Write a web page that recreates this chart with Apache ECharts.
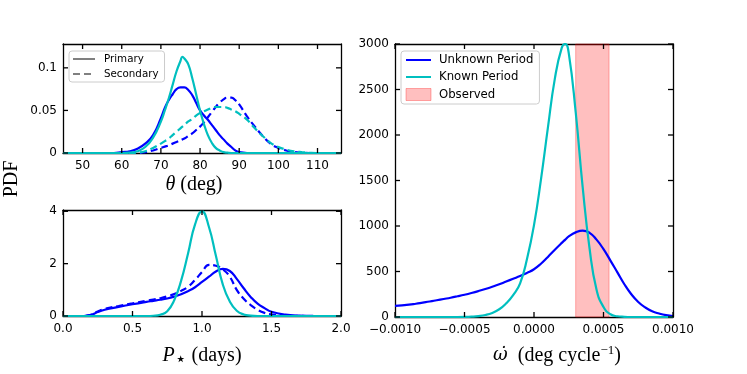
<!DOCTYPE html>
<html>
<head>
<meta charset="utf-8">
<script src="https://cdn.jsdelivr.net/npm/echarts@6/dist/echarts.min.js"></script>
<style>
  html, body { margin: 0; padding: 0; background: #fff; }
  #chart { width: 747px; height: 374px; }
</style>
</head>
<body>
<div id="chart"></div>
<script>
// theta panel (top left)
const thetaGrid = [45, 58, 60, 62, 64, 66, 68, 70, 71, 72, 73, 74, 75, 75.5, 76, 77, 78, 79, 80, 81, 82, 83, 84, 85, 86, 87, 88, 89, 90, 92, 94, 96, 98, 100, 102, 104, 106, 108, 110, 116]
const thetaUnknownPri = [0, 0, 0.001, 0.002, 0.005, 0.011, 0.021, 0.041, 0.053, 0.062, 0.069, 0.075, 0.077, 0.077, 0.077, 0.074, 0.068, 0.059, 0.05, 0.044, 0.039, 0.033, 0.027, 0.021, 0.016, 0.011, 0.007, 0.003, 0.001, 0, 0, 0, 0, 0, 0, 0, 0, 0, 0, 0]
const thetaKnownPri = [0, 0, 0, 0.0005, 0.002, 0.007, 0.018, 0.037, 0.05, 0.064, 0.08, 0.096, 0.108, 0.113, 0.111, 0.104, 0.088, 0.069, 0.05, 0.034, 0.021, 0.012, 0.006, 0.003, 0.001, 0.0004, 0, 0, 0, 0, 0, 0, 0, 0, 0, 0, 0, 0, 0, 0]
const thetaUnknownSec = [0, 0, 0, 0, 0, 0.001, 0.003, 0.006, 0.0075, 0.009, 0.011, 0.013, 0.015, 0.016, 0.017, 0.02, 0.023, 0.027, 0.031, 0.036, 0.042, 0.048, 0.054, 0.059, 0.063, 0.065, 0.065, 0.062, 0.057, 0.043, 0.031, 0.02, 0.011, 0.006, 0.003, 0.0012, 0.0004, 0, 0, 0]
const thetaKnownSec = [0, 0, 0, 0, 0.0005, 0.002, 0.006, 0.011, 0.014, 0.017, 0.021, 0.025, 0.029, 0.031, 0.033, 0.037, 0.04, 0.044, 0.047, 0.049, 0.051, 0.053, 0.054, 0.054, 0.054, 0.053, 0.051, 0.049, 0.046, 0.039, 0.029, 0.02, 0.012, 0.007, 0.004, 0.002, 0.001, 0.0003, 0, 0]
const thetaTicks = [50, 60, 70, 80, 90, 100, 110]
const thetaYTicks = [0, 0.05, 0.1]

// stellar period panel (bottom left)
const pGrid = [0, 0.15, 0.2, 0.25, 0.3, 0.4, 0.5, 0.6, 0.65, 0.7, 0.75, 0.8, 0.85, 0.9, 0.95, 1.0, 1.05, 1.1, 1.15, 1.2, 1.25, 1.3, 1.35, 1.4, 1.45, 1.5, 1.6, 1.7, 1.8, 2.0]
const pUnknownPri = [0, 0, 0.04, 0.15, 0.24, 0.35, 0.45, 0.54, 0.58, 0.62, 0.67, 0.74, 0.83, 0.95, 1.1, 1.3, 1.5, 1.7, 1.8, 1.72, 1.42, 1.06, 0.73, 0.47, 0.3, 0.16, 0.05, 0.015, 0.005, 0]
const pUnknownSec = [0, 0, 0.05, 0.17, 0.27, 0.38, 0.48, 0.58, 0.63, 0.68, 0.75, 0.84, 0.96, 1.12, 1.38, 1.68, 1.95, 1.92, 1.78, 1.5, 1.0, 0.66, 0.42, 0.24, 0.12, 0.06, 0.015, 0.003, 0, 0]
const pKnown = [0, 0, 0, 0, 0, 0, 0, 0, 0.01, 0.05, 0.18, 0.6, 1.35, 2.4, 3.5, 4.0, 3.4, 2.3, 1.2, 0.55, 0.2, 0.06, 0.015, 0, 0, 0, 0, 0, 0, 0]
const pTicks = [0, 0.5, 1.0, 1.5, 2.0]
const pYTicks = [0, 2, 4]

// precession panel (right)
const omegaGrid = [-0.001, -0.00095, -0.0009, -0.00085, -0.0008, -0.00075, -0.0007, -0.00065, -0.0006, -0.00055, -0.0005, -0.00045, -0.0004, -0.00035, -0.0003, -0.00025, -0.0002, -0.00015, -0.0001, -0.00005, 0, 0.00005, 0.0001, 0.00015, 0.0002, 0.000225, 0.00025, 0.0003, 0.00035, 0.0004, 0.00045, 0.0005, 0.00055, 0.0006, 0.00065, 0.0007, 0.00075, 0.0008, 0.00085, 0.0009, 0.00095, 0.001]
const omegaUnknown = [122, 128, 135, 146, 158, 170, 184, 198, 212, 228, 245, 264, 285, 308, 333, 360, 390, 420, 450, 485, 525, 585, 660, 740, 815, 850, 885, 930, 950, 925, 850, 745, 620, 490, 360, 250, 165, 105, 63, 38, 20, 10]
const omegaKnown = [0, 0, 0, 0, 0, 0, 0, 0, 0, 0, 1, 4, 10, 22, 45, 85, 150, 240, 370, 640, 1010, 1510, 2080, 2620, 2960, 3000, 2900, 2250, 1430, 750, 300, 110, 30, 8, 2, 0, 0, 0, 0, 0, 0, 0]
const observedRange = [0.0003, 0.00054]
const omegaTicks = [-0.001, -0.0005, 0, 0.0005, 0.001]
const omegaYTicks = [0, 500, 1000, 1500, 2000, 2500, 3000]

const BLUE = '#0000ff'
const CYAN = '#00bfbf'
const GRAY = '#808080'
const tickFont = { fontFamily: 'DejaVu Sans', fontSize: 12, color: '#000' }
const titleFont = { fontFamily: 'Liberation Serif', fontSize: 20, color: '#000' }
const panels = [
  { left: 63, top: 44, width: 278, height: 109 },
  { left: 63, top: 210, width: 278, height: 106 },
  { left: 395, top: 44, width: 278, height: 273 }
]

function pairs(xs, ys) {
  return xs.map((x, i) => [x, ys[i]])
}

function line(show) {
  return { show, onZero: false, lineStyle: { color: '#000', width: 1.3 } }
}

function xAxes(grid, min, max, ticks, fmt, name, nameGap, pad) {
  const base = { type: 'value', gridIndex: grid, min, max, splitLine: { show: false }, axisTick: { show: false } }
  return [
    {
      ...base, position: 'bottom', axisLine: line(true),
      axisLabel: { customValues: ticks, formatter: fmt, margin: 7, ...tickFont },
      name, nameLocation: 'middle', nameGap,
      nameTextStyle: {
        ...titleFont, padding: pad,
        rich: {
          i: { ...titleFont, fontStyle: 'italic' },
          w: { ...titleFont, fontFamily: 'DejaVu Serif', fontSize: 18, fontStyle: 'italic' },
          s: { ...titleFont, fontFamily: 'DejaVu Sans', fontSize: 19, padding: [9, 0, 0, 0] },
          sup: { ...titleFont, fontSize: 13, padding: [0, 0, 10, 0] }
        }
      }
    },
    { ...base, position: 'top', axisLine: line(true), axisLabel: { show: false } }
  ]
}

function yAxes(grid, min, max, ticks) {
  const base = { type: 'value', gridIndex: grid, min, max, splitLine: { show: false }, axisTick: { show: false } }
  return [
    {
      ...base, position: 'left', axisLine: line(true),
      axisLabel: { customValues: ticks, formatter: v => String(v), margin: 6, ...tickFont }
    },
    { ...base, position: 'right', axisLine: line(true), axisLabel: { show: false } }
  ]
}

function curve(name, g, data, color, dashed) {
  return {
    name, type: 'line', xAxisIndex: g * 2, yAxisIndex: g * 2,
    data, symbol: 'none', smooth: 0.5,
    lineStyle: { color, width: 2.2, type: dashed ? [7, 4] : 'solid' },
    itemStyle: { color }, z: 3
  }
}

const chart = echarts.init(document.getElementById('chart'))

chart.setOption({
  animation: false,
  grid: panels,
  xAxis: [
    ...xAxes(0, 45, 116, thetaTicks, v => String(v), '{i|θ} (deg)', 22, [0, 16, 0, 0]),
    ...xAxes(1, 0, 2, pTicks, v => v.toFixed(1), '{i|P}{s|⋆} (days)', 26, [0, 0, 0, 0]),
    ...xAxes(2, -0.001, 0.001, omegaTicks, v => v.toFixed(4).replace('-', '−'), '{w|ω̇}  (deg cycle{sup|−1})', 27, [0, 0, 0, 46])
  ],
  yAxis: [
    ...yAxes(0, 0, 0.128, thetaYTicks),
    ...yAxes(1, 0, 4.05, pYTicks),
    ...yAxes(2, 0, 3000, omegaYTicks)
  ],
  legend: [
    {
      orient: 'vertical', left: 69, top: 51,
      data: ['Primary', 'Secondary'],
      itemWidth: 22, itemHeight: 10, itemGap: 5,
      padding: [3, 6, 3, 3],
      backgroundColor: 'rgba(255,255,255,0.8)', borderColor: '#cccccc', borderWidth: 1, borderRadius: 3,
      itemStyle: { opacity: 0 },
      textStyle: { fontFamily: 'DejaVu Sans', fontSize: 10.3, color: '#000', padding: [0, 0, 0, 4] },
      selectedMode: false
    },
    {
      orient: 'vertical', left: 401, top: 51,
      data: ['Unknown Period', 'Known Period',
        { name: 'Observed', icon: 'rect', itemStyle: { opacity: 1, color: 'rgba(255,0,0,0.25)', borderColor: 'rgba(255,0,0,0.3)', borderWidth: 1 } }],
      itemWidth: 25, itemHeight: 12, itemGap: 5,
      padding: [3, 6, 3, 4],
      backgroundColor: 'rgba(255,255,255,0.8)', borderColor: '#cccccc', borderWidth: 1, borderRadius: 3,
      itemStyle: { opacity: 0 },
      textStyle: { fontFamily: 'DejaVu Sans', fontSize: 11.7, color: '#000', padding: [0, 0, 0, 3] },
      selectedMode: false
    }
  ],
  series: [
    // legend-only styles
    { name: 'Primary', type: 'line', xAxisIndex: 0, yAxisIndex: 0, data: [], symbol: 'none', lineStyle: { color: GRAY, width: 2.2 }, itemStyle: { color: GRAY } },
    { name: 'Secondary', type: 'line', xAxisIndex: 0, yAxisIndex: 0, data: [], symbol: 'none', lineStyle: { color: GRAY, width: 2.2, type: [7, 4] }, itemStyle: { color: GRAY } },

    curve('theta unknown primary', 0, pairs(thetaGrid, thetaUnknownPri), BLUE, false),
    curve('theta unknown secondary', 0, pairs(thetaGrid, thetaUnknownSec), BLUE, true),
    curve('theta known primary', 0, pairs(thetaGrid, thetaKnownPri), CYAN, false),
    curve('theta known secondary', 0, pairs(thetaGrid, thetaKnownSec), CYAN, true),

    curve('P unknown primary', 1, pairs(pGrid, pUnknownPri), BLUE, false),
    curve('P unknown secondary', 1, pairs(pGrid, pUnknownSec), BLUE, true),
    curve('P known', 1, pairs(pGrid, pKnown), CYAN, false),

    {
      name: 'Observed', type: 'line', xAxisIndex: 4, yAxisIndex: 4, data: [], symbol: 'none',
      itemStyle: { color: 'rgba(255,0,0,0.25)' },
      markArea: {
        silent: true,
        itemStyle: { color: 'rgba(255,0,0,0.25)', borderColor: 'rgba(255,0,0,0.3)', borderWidth: 1 },
        data: [[{ xAxis: observedRange[0] }, { xAxis: observedRange[1] }]]
      },
      z: 1
    },
    curve('Unknown Period', 2, pairs(omegaGrid, omegaUnknown), BLUE, false),
    curve('Known Period', 2, pairs(omegaGrid, omegaKnown), CYAN, false)
  ]
})

// inward tick marks on all four sides, placed with the panels' own scales
const L = 5
const tickStyle = { stroke: '#000', lineWidth: 1.3 }
const extras = [{
  type: 'text', x: 12, y: 179, rotation: Math.PI / 2, z: 100,
  style: { text: 'PDF', font: '20px "Liberation Serif"', fill: '#000', align: 'center', verticalAlign: 'middle' }
}]

function addTicks(g, xTicks, yTicks, xMin, xMax, yMin, yMax) {
  const finder = { xAxisIndex: g * 2, yAxisIndex: g * 2 }
  xTicks.forEach(v => {
    const b = chart.convertToPixel(finder, [v, yMin])
    const t = chart.convertToPixel(finder, [v, yMax])
    extras.push({ type: 'line', z: 100, shape: { x1: b[0], y1: b[1], x2: b[0], y2: b[1] - L }, style: tickStyle })
    extras.push({ type: 'line', z: 100, shape: { x1: t[0], y1: t[1], x2: t[0], y2: t[1] + L }, style: tickStyle })
  })
  yTicks.forEach(v => {
    const l = chart.convertToPixel(finder, [xMin, v])
    const r = chart.convertToPixel(finder, [xMax, v])
    extras.push({ type: 'line', z: 100, shape: { x1: l[0], y1: l[1], x2: l[0] + L, y2: l[1] }, style: tickStyle })
    extras.push({ type: 'line', z: 100, shape: { x1: r[0], y1: r[1], x2: r[0] - L, y2: r[1] }, style: tickStyle })
  })
}

addTicks(0, thetaTicks, thetaYTicks, 45, 116, 0, 0.128)
addTicks(1, pTicks, pYTicks, 0, 2, 0, 4.05)
addTicks(2, omegaTicks, omegaYTicks, -0.001, 0.001, 0, 3000)

chart.setOption({ graphic: extras })
</script>
</body>
</html>
